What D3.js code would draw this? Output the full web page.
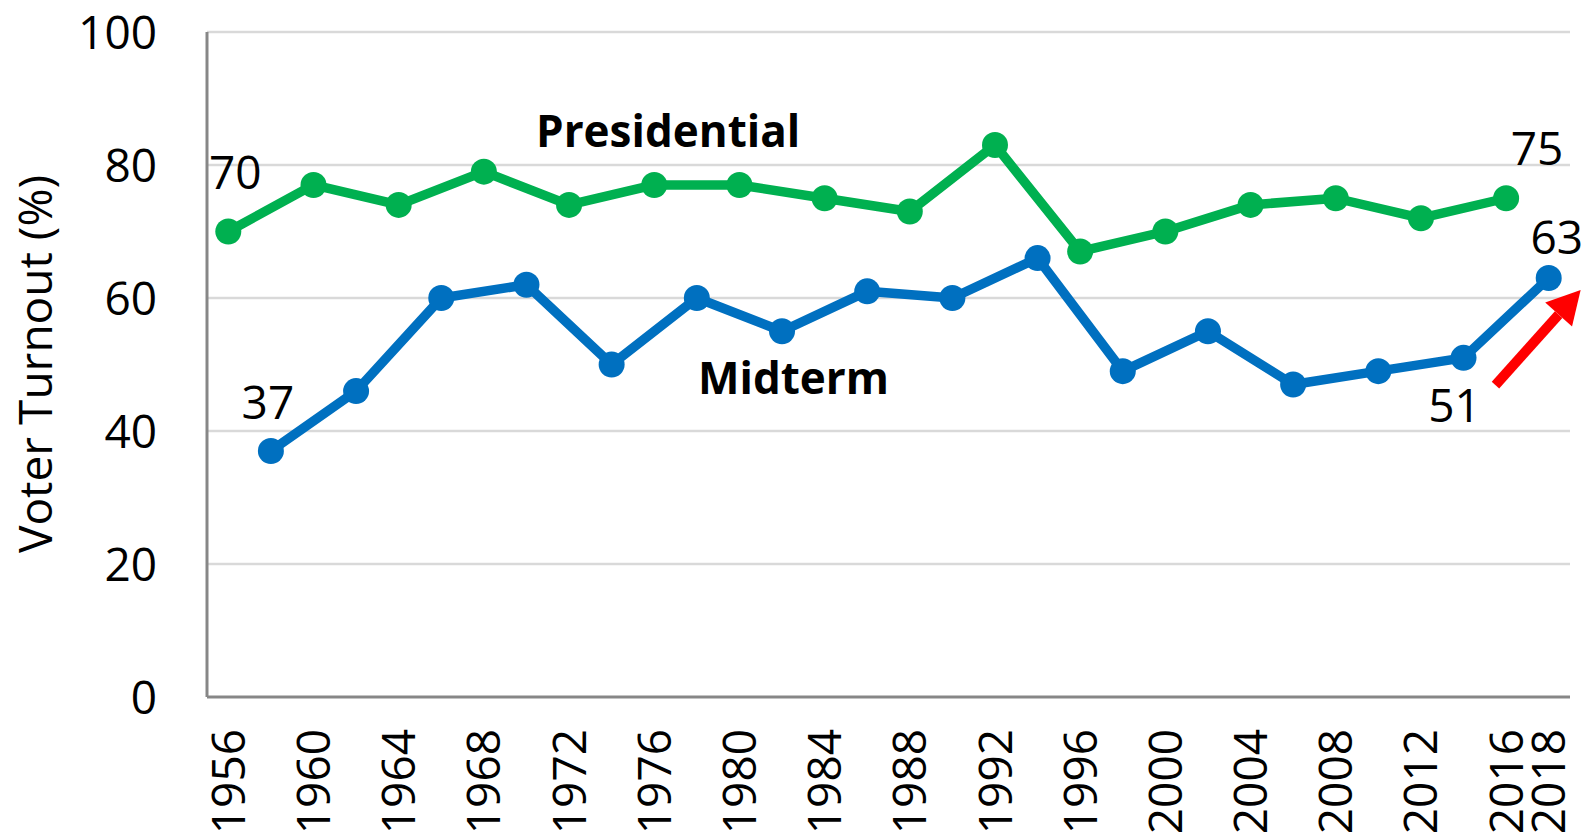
<!DOCTYPE html>
<html>
<head>
<meta charset="utf-8">
<script src="https://d3js.org/d3.v7.min.js"></script>
<style>
  body { margin: 0; background: #fff; }
  text { font-family: "Open Sans", sans-serif; fill: #000; }
</style>
</head>
<body>
<svg width="1591" height="837"></svg>
<script>
// values
var presYears = [1956, 1960, 1964, 1968, 1972, 1976, 1980, 1984, 1988, 1992, 1996, 2000, 2004, 2008, 2012, 2016];
var presValues = [70, 77, 74, 79, 74, 77, 77, 75, 73, 83, 67, 70, 74, 75, 72, 75];
var midYears = [1958, 1962, 1966, 1970, 1974, 1978, 1982, 1986, 1990, 1994, 1998, 2002, 2006, 2010, 2014, 2018];
var midValues = [37, 46, 60, 62, 50, 60, 55, 61, 60, 66, 49, 55, 47, 49, 51, 63];
var xTickYears = [1956, 1960, 1964, 1968, 1972, 1976, 1980, 1984, 1988, 1992, 1996, 2000, 2004, 2008, 2012, 2016, 2018];
var yTicks = [0, 20, 40, 60, 80, 100];

var svg = d3.select("svg"),
    plotLeft = 207, plotRight = 1570, plotTop = 32, plotBottom = 697;

var x = d3.scaleLinear().domain([1955, 2019]).range([plotLeft, plotRight]);
var y = d3.scaleLinear().domain([0, 100]).range([plotBottom, plotTop]);

// gridlines
svg.append("g").selectAll("line")
  .data(yTicks.filter(function(d){ return d > 0; }))
  .enter().append("line")
    .attr("x1", plotLeft).attr("x2", plotRight)
    .attr("y1", function(d){ return y(d); })
    .attr("y2", function(d){ return y(d); })
    .style("stroke", "#d9d9d9")
    .style("stroke-width", 2.5);

// axes lines
svg.append("line")
  .attr("x1", plotLeft).attr("x2", plotLeft).attr("y1", y(100)).attr("y2", y(0))
  .style("stroke", "#878787").style("stroke-width", 3);
svg.append("line")
  .attr("x1", plotLeft).attr("x2", plotRight).attr("y1", y(0)).attr("y2", y(0))
  .style("stroke", "#878787").style("stroke-width", 3);

// y tick labels
svg.append("g").selectAll("text")
  .data(yTicks)
  .enter().append("text")
    .attr("x", 157)
    .attr("y", function(d){ return y(d); })
    .attr("dy", "0.36em")
    .attr("text-anchor", "end")
    .attr("font-size", 46)
    .text(function(d){ return d; });

// x tick labels
svg.append("g").selectAll("text")
  .data(xTickYears)
  .enter().append("text")
    .attr("transform", function(d){ return "translate(" + x(d) + ",729) rotate(-90)"; })
    .attr("dy", "0.36em")
    .attr("text-anchor", "end")
    .attr("font-size", 46)
    .text(function(d){ return d; });

// y axis title
svg.append("text")
  .attr("transform", "translate(35,364) rotate(-90)")
  .attr("dy", "0.36em")
  .attr("text-anchor", "middle")
  .attr("font-size", 46)
  .text("Voter Turnout (%)");

var line = d3.line()
  .x(function(d){ return x(d[0]); })
  .y(function(d){ return y(d[1]); });

function drawSeries(years, values, colour) {
  var pts = d3.zip(years, values);
  svg.append("path")
    .datum(pts)
    .attr("d", line)
    .style("fill", "none")
    .style("stroke", colour)
    .style("stroke-width", 9.5)
    .style("stroke-linejoin", "round");
  svg.append("g").selectAll("circle")
    .data(pts)
    .enter().append("circle")
      .attr("cx", function(d){ return x(d[0]); })
      .attr("cy", function(d){ return y(d[1]); })
      .attr("r", 13)
      .style("fill", colour);
}
drawSeries(presYears, presValues, "#00b050");
drawSeries(midYears, midValues, "#0070c0");

// series names
svg.append("text")
  .attr("x", 536).attr("y", 147)
  .attr("font-size", 44).attr("font-weight", "bold")
  .text("Presidential");
svg.append("text")
  .attr("x", 698).attr("y", 394)
  .attr("font-size", 44).attr("font-weight", "bold")
  .text("Midterm");

// data labels
var labels = [
  {yr: presYears[0], v: presValues[0], dx: 7, dy: -43},
  {yr: midYears[0], v: midValues[0], dx: -3, dy: -32},
  {yr: presYears[presYears.length - 1], v: presValues[presValues.length - 1], dx: 31, dy: -33},
  {yr: midYears[midYears.length - 1], v: midValues[midValues.length - 1], dx: 8, dy: -24},
  {yr: midYears[midYears.length - 2], v: midValues[midValues.length - 2], dx: -9, dy: 64}
];
svg.append("g").selectAll("text")
  .data(labels)
  .enter().append("text")
    .attr("x", function(d){ return x(d.yr) + d.dx; })
    .attr("y", function(d){ return y(d.v) + d.dy; })
    .attr("text-anchor", "middle")
    .attr("font-size", 46)
    .text(function(d){ return d.v; });

// red arrow
var ax0 = x(2015.5), ay0 = y(46.9), ax1 = x(2019.5), ay1 = y(61.2);
var ang = Math.atan2(ay1 - ay0, ax1 - ax0);
var headLen = 33, headW = 18;
var bx = ax1 - headLen * Math.cos(ang), by = ay1 - headLen * Math.sin(ang);
svg.append("line")
  .attr("x1", ax0).attr("y1", ay0).attr("x2", bx).attr("y2", by)
  .style("stroke", "#ff0000").style("stroke-width", 10);
svg.append("path")
  .attr("d", "M" + ax1 + "," + ay1 +
    "L" + (bx + headW * Math.sin(ang)) + "," + (by - headW * Math.cos(ang)) +
    "L" + (bx - headW * Math.sin(ang)) + "," + (by + headW * Math.cos(ang)) + "Z")
  .style("fill", "#ff0000");
</script>
</body>
</html>
